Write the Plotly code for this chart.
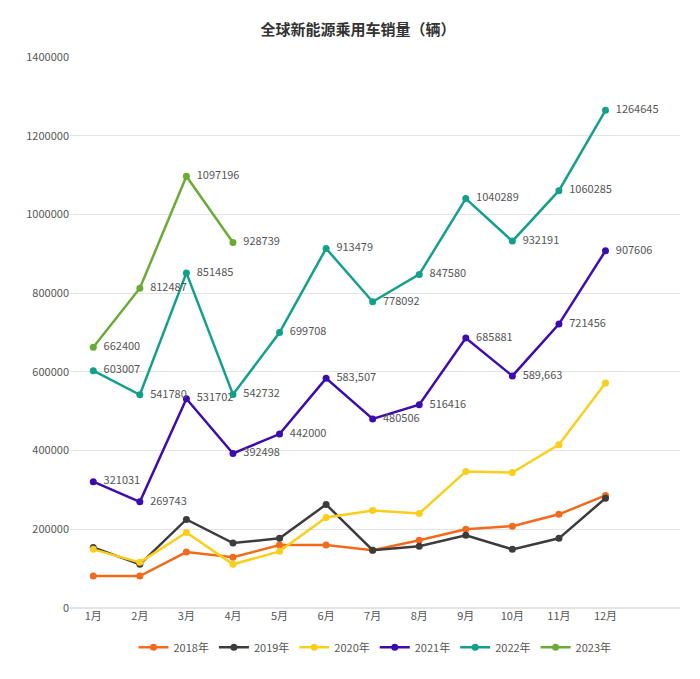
import plotly.graph_objects as go

months = [f"{i}月" for i in range(1, 13)]

s2018 = [81000, 81000, 142000, 129000, 160000, 160000, 147000, 172000, 200000, 208000, 238000, 286000]
s2019 = [154000, 111000, 225000, 165000, 177000, 263000, 147000, 157000, 185000, 149000, 177000, 279000]
s2020 = [149000, 116000, 192000, 111000, 144000, 230000, 248000, 240000, 347000, 344000, 415000, 572000]
s2021 = [321031, 269743, 531702, 392498, 442000, 583507, 480506, 516416, 685881, 589663, 721456, 907606]
s2022 = [603007, 541780, 851485, 542732, 699708, 913479, 778092, 847580, 1040289, 932191, 1060285, 1264645]
s2023 = [662400, 812487, 1097196, 928739]

labels2021 = ["321031", "269743", "531702", "392498", "442000", "583,507", "480506",
              "516416", "685881", "589,663", "721456", "907606"]

series = [
    ("2018年", s2018, "#f26b1d", None),
    ("2019年", s2019, "#3c3c3c", None),
    ("2020年", s2020, "#f9cf1c", None),
    ("2021年", s2021, "#3d0caf", labels2021),
    ("2022年", s2022, "#13a08a", [str(v) for v in s2022]),
    ("2023年", s2023, "#6aab35", [str(v) for v in s2023]),
]

fig = go.Figure()
for name, vals, color, text in series:
    fig.add_trace(go.Scatter(
        x=months[:len(vals)], y=vals, name=name,
        mode="lines+markers+text" if text else "lines+markers",
        text=["  " + t for t in text] if text else None,
        textposition="middle right",
        textfont=dict(size=11, color="#555"),
        line=dict(color=color, width=2.5),
        marker=dict(color=color, size=7),
        cliponaxis=False,
    ))

fig.update_layout(
    width=700, height=679,
    title=dict(text="<b>全球新能源乘用车销量（辆）</b>", x=0.5, y=0.975,
               font=dict(size=15, color="#333")),
    font=dict(family="Noto Sans CJK SC", size=11, color="#555"),
    plot_bgcolor="white", paper_bgcolor="white",
    margin=dict(l=62, r=28, t=49, b=79),
    xaxis=dict(type="category", range=[-0.5, 12.6], showgrid=False,
               showline=False, ticks=""),
    yaxis=dict(range=[0, 1400000], dtick=200000, gridcolor="#e3e3e3",
               zeroline=True, zerolinecolor="#e3e3e3", tickformat="d"),
    legend=dict(orientation="h", x=0.5, xanchor="center", y=-0.045, yanchor="top",
                font=dict(size=11)),
)

fig.write_html("out.html")
